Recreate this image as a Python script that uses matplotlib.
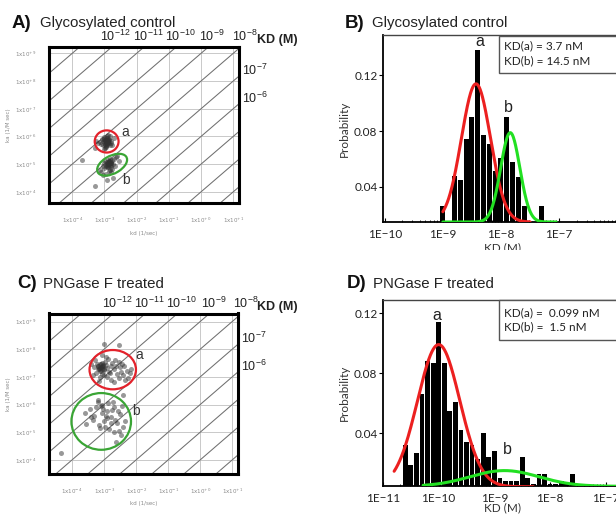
import numpy as np
import matplotlib.pyplot as plt
from matplotlib.patches import Ellipse, Rectangle

# ---------------- data ----------------
# A) glycosylated control, scatter (log10 kd [1/s], log10 ka [1/M s])
A_kd_a = [-2.95, -2.90, -3.00, -2.85, -2.98, -2.92, -3.05, -2.88, -2.95, -2.80, -3.10, -2.93,
          -2.97, -2.87, -3.02, -2.91, -2.99, -2.84, -3.07, -2.95, -2.89, -3.00, -2.78, -3.15,
          -2.94, -2.86, -3.04, -2.96, -2.90, -2.82, -3.20, -2.75, -2.70, -3.25, -3.30, -2.88, -2.93,
          -2.96, -2.93, -2.91, -2.97, -2.94, -2.99, -2.92, -2.95, -2.90, -3.01, -2.89, -2.96]
A_ka_a = [5.85, 5.80, 5.90, 5.75, 5.70, 5.95, 5.82, 5.88, 5.65, 5.78, 5.72, 6.00,
          5.60, 5.92, 5.98, 5.73, 5.84, 5.68, 5.90, 5.76, 6.05, 5.55, 5.85, 5.80,
          5.62, 5.87, 5.70, 5.93, 5.79, 6.02, 5.75, 5.70, 5.95, 5.85, 5.60, 5.83, 5.77,
          5.81, 5.86, 5.79, 5.74, 5.89, 5.83, 5.71, 5.77, 5.84, 5.87, 5.81, 5.92]
A_kd_b = [-2.90, -2.85, -2.95, -2.80, -2.75, -3.00, -2.88, -2.70, -2.92, -2.83, -3.05, -2.78,
          -2.65, -2.98, -2.87, -2.72, -3.10, -2.82, -2.93, -2.60, -2.77, -3.02, -2.89, -2.68,
          -2.96, -2.84, -3.15, -2.55, -2.91, -2.79, -3.71, -3.30, -2.93, -2.73, -3.05,
          -2.86, -2.84, -2.90, -2.80, -2.88, -2.83, -2.92, -2.78, -2.87, -2.81]
A_ka_b = [5.00, 5.10, 4.95, 5.05, 5.15, 4.85, 4.90, 5.20, 5.08, 4.80, 4.92, 4.98,
          5.25, 5.12, 4.75, 5.02, 4.70, 5.18, 4.88, 5.30, 4.82, 5.05, 5.15, 4.95,
          4.65, 5.03, 4.78, 5.10, 4.98, 4.72, 5.15, 4.20, 4.43, 4.50, 4.60,
          5.02, 4.96, 5.06, 5.08, 4.93, 5.12, 5.00, 5.03, 5.07, 4.90]

# C) PNGase F treated, scatter
C_kd_a = [-3.20, -3.15, -3.10, -3.05, -3.00, -2.95, -3.12, -3.08, -3.18, -3.02, -2.90, -3.25,
          -3.22, -3.05, -2.98, -3.14, -3.09, -2.85, -2.80, -2.70, -2.60, -2.50, -2.40, -2.30,
          -2.20, -2.75, -2.65, -2.55, -2.45, -2.35, -3.30, -3.35, -3.28, -2.92, -2.88, -3.00,
          -3.16, -2.78, -2.62, -2.48, -2.25, -2.15, -3.40, -2.95, -3.06, -2.68, -2.52, -2.38,
          -3.12, -2.82, -3.00, -2.55, -2.42, -4.33,
          -3.10, -3.05, -3.15, -3.08, -3.02, -3.12, -3.00, -3.18]
C_ka_a = [7.40, 7.30, 7.45, 7.35, 7.25, 7.42, 7.20, 7.50, 7.28, 7.38, 7.32, 7.15,
          7.48, 7.10, 7.55, 7.33, 7.22, 7.18, 7.40, 7.28, 7.12, 7.35, 7.05, 7.22,
          7.15, 7.50, 7.60, 6.95, 7.45, 6.90, 7.35, 7.05, 7.60, 6.98, 7.65, 7.05,
          6.85, 6.90, 7.40, 7.18, 6.95, 7.30, 7.45, 7.70, 7.78, 6.80, 7.55, 7.38,
          7.00, 7.15, 8.20, 8.15, 6.35, 4.25,
          7.35, 7.40, 7.32, 7.28, 7.42, 7.45, 7.30, 7.38]
C_kd_b = [-3.60, -3.45, -3.30, -3.20, -3.10, -3.00, -2.90, -2.80, -2.70, -2.60, -2.50, -2.40,
          -3.55, -3.35, -3.25, -3.15, -3.05, -2.95, -2.85, -2.75, -2.65, -2.55, -2.45, -3.40,
          -3.18, -3.08, -2.98, -2.88, -2.78, -2.68, -2.58, -2.35, -3.02, -2.92, -3.12, -2.72,
          -2.48, -2.62]
C_ka_b = [5.70, 5.85, 5.60, 6.10, 5.95, 5.40, 5.75, 5.55, 5.90, 5.35, 5.65, 5.20,
          5.30, 5.45, 5.90, 5.25, 6.00, 5.60, 5.10, 5.80, 5.45, 5.05, 5.95, 5.55,
          6.15, 5.70, 5.20, 6.05, 5.35, 5.00, 5.75, 5.40, 5.85, 5.50, 5.15, 6.08,
          4.90, 4.65]

kd_decades = [-4, -3, -2, -1, 0, 1]
ka_decades = [4, 5, 6, 7, 8, 9]
KD_top = [-12, -11, -10, -9, -8]
KD_side = [-7, -6]

# B) histogram, log10 KD bin centres and probability
B_bins = [-9.0, -8.8, -8.7, -8.6, -8.5, -8.4, -8.3, -8.2, -8.1, -8.0, -7.9, -7.8, -7.7, -7.6, -7.3]
B_prob = [0.026, 0.048, 0.045, 0.074, 0.090, 0.138, 0.077, 0.071, 0.051, 0.061, 0.090, 0.058,
          0.047, 0.026, 0.026]
# D) histogram
D_bins = [-10.6, -10.5, -10.4, -10.3, -10.2, -10.1, -10.0, -9.9, -9.8, -9.7, -9.6, -9.5, -9.4,
          -9.3, -9.2, -9.1, -9.0, -8.9, -8.8, -8.7, -8.6, -8.5, -8.4, -8.3, -8.2, -8.1, -8.0,
          -7.9, -7.8, -7.7, -7.6]
D_prob = [0.032, 0.019, 0.027, 0.066, 0.088, 0.087, 0.114, 0.087, 0.055, 0.061, 0.042, 0.034,
          0.032, 0.023, 0.040, 0.024, 0.028, 0.010, 0.008, 0.008, 0.008, 0.024, 0.010, 0.006,
          0.013, 0.013, 0.006, 0.006, 0.008, 0.006, 0.013]

# gaussian fits in log10 KD: centre, sigma, amplitude, baseline, from, to
B_fit_a = [-8.43, 0.25, 0.099, 0.0148, -9.0, -7.5]
B_fit_b = [-7.84, 0.165, 0.064, 0.0148, -9.0, -7.05]
D_fit_a = [-10.0, 0.38, 0.095, 0.0042, -10.8, -8.3]
D_fit_b = [-8.82, 0.62, 0.0105, 0.0045, -10.28, -6.5]

W, H = 616, 514
fig = plt.figure(figsize=(6.16, 5.14), dpi=100)
plt.rcParams['mathtext.fontset'] = 'custom'
plt.rcParams['mathtext.rm'] = 'Liberation Sans'
SANS = 'Liberation Sans'
CAL = 'Lato'


def px_axes(l, t, r, b):
    return fig.add_axes([l / W, 1 - b / H, (r - l) / W, (b - t) / H])


def ftext(x, y, s, **kw):
    return fig.text(x / W, 1 - y / H, s, **kw)


def sup(base, n):
    return r'$\mathregular{%s^{%s}}$' % (base, ('+%d' % n) if n >= 0 else ('%d' % n))


def scatter_panel(ax, ylim, kd_a, ka_a, kd_b, ka_b, red, green, pos_a, pos_b):
    x0, x1 = -4.72, 1.18
    ax.set_xlim(x0, x1)
    ax.set_ylim(*ylim)
    for v in kd_decades:
        ax.axvline(v, color='#c9c9c9', lw=0.7, zorder=0)
    for v in ka_decades:
        ax.axhline(v, color='#c9c9c9', lw=0.7, zorder=0)
    xs = np.array([x0 - 1, x1 + 1])
    for n in range(-14, -1):
        ax.plot(xs, xs - n, color='#6f6f6f', lw=0.75, zorder=1)
    ax.scatter(kd_a, ka_a, s=13, color='#333333', alpha=0.5, linewidths=0, zorder=2)
    ax.scatter(kd_b, ka_b, s=13, color='#333333', alpha=0.5, linewidths=0, zorder=2)
    ax.add_patch(Ellipse(red[:2], red[2], red[3], angle=red[4], fill=False,
                         ec='#e3222b', lw=1.6, zorder=3))
    ax.add_patch(Ellipse(green[:2], green[2], green[3], angle=green[4], fill=False,
                         ec='#3aa535', lw=1.6, zorder=3))
    ax.text(pos_a[0], pos_a[1], 'a', fontsize=10, family=SANS, color='#333', ha='center', va='center')
    ax.text(pos_b[0], pos_b[1], 'b', fontsize=10, family=SANS, color='#333', ha='center', va='center')
    ax.set_xticks(kd_decades)
    ax.set_xticklabels([sup('1x10', n) for n in kd_decades], fontsize=4, color='#8a8a8a')
    ax.set_yticks(ka_decades)
    ax.set_yticklabels([sup('1x10', n) for n in ka_decades], fontsize=4, color='#8a8a8a')
    ax.tick_params(length=0, pad=9)
    ax.set_xlabel('kd (1/sec)', fontsize=4, color='#8a8a8a', labelpad=4)
    ax.set_ylabel('ka (1/M sec)', fontsize=4, color='#8a8a8a', labelpad=3)
    for s in ax.spines.values():
        s.set_linewidth(2.2)
    for n in KD_top:
        ax.text(n + ylim[1] + 0.12, ylim[1] + 0.1, sup('10', n), fontsize=9,
                family=SANS, color='#222', ha='center', va='bottom', clip_on=False)
    for n in KD_side:
        ax.text(x1 + 0.1, x1 - n + 0.2, sup('10', n), fontsize=9, family=SANS, color='#222',
                ha='left', va='center', clip_on=False)


def fit_line(ax, p, color):
    xs = np.linspace(p[4], p[5], 300)
    ys = p[3] + p[2] * np.exp(-(xs - p[0]) ** 2 / (2 * p[1] ** 2))
    ax.plot(10 ** xs, ys, color=color, lw=2.2, zorder=3, solid_capstyle='round')


def hist_panel(ax, bins, prob, xlim, ylim, fits, ticks, box, box_lines, labels, xpad=2):
    c = np.array(bins)
    lo, hi = 10 ** (c - 0.043), 10 ** (c + 0.043)
    ax.bar(lo, prob, width=hi - lo, align='edge', color='black', zorder=2)
    for p, col in fits:
        fit_line(ax, p, col)
    ax.set_xscale('log')
    ax.set_xlim(10 ** xlim[0], 10 ** xlim[1])
    ax.set_ylim(*ylim)
    ax.set_xticks([10.0 ** t for t in ticks])
    ax.set_xticklabels(['1E\u2212%d' % -t for t in ticks], fontsize=8.5, family=CAL, color='#222')
    ax.set_yticks([0.04, 0.08, 0.12])
    ax.set_yticklabels(['0.04', '0.08', '0.12'], fontsize=8.5, family=CAL, color='#222')
    ax.tick_params(axis='x', which='major', direction='in', length=3, width=0.8, pad=5)
    ax.tick_params(axis='x', which='minor', direction='in', length=1.5, width=0.6)
    ax.tick_params(axis='y', direction='out', length=3, width=0.8, pad=1)
    ax.set_ylabel('Probability', fontsize=8.5, family=CAL, color='#333', labelpad=3)
    ax.set_xlabel('KD (M)', fontsize=8.5, family=CAL, color='#333', labelpad=xpad)
    for s in ['left', 'bottom']:
        ax.spines[s].set_linewidth(1.3)
    ax.spines['top'].set_linewidth(1.0)
    ax.spines['top'].set_color('#444')
    ax.add_patch(Rectangle((box[0] / W, 1 - box[3] / H), (box[2] - box[0]) / W, (box[3] - box[1]) / H,
                           transform=fig.transFigure, fill=True, fc='white', ec='#555', lw=1.0,
                           clip_on=False, zorder=4))
    for (x, y, s) in box_lines:
        ftext(x, y, s, fontsize=8.5, family=CAL, color='#222', va='center', ha='left', zorder=5)
    for (x, y, s) in labels:
        ftext(x, y, s, fontsize=11.5, family=SANS, color='#222', va='center', ha='center')


# ---- A ----
axA = px_axes(49, 47, 239, 203.5)
scatter_panel(axA, (3.58, 9.23), A_kd_a, A_ka_a, A_kd_b, A_ka_b,
              (-2.93, 5.82, 0.74, 0.80, 0), (-2.76, 4.98, 1.05, 0.62, 35),
              (-2.34, 6.15), (-2.32, 4.42))
# ---- C ----
axC = px_axes(49, 313.5, 238, 474)
scatter_panel(axC, (3.49, 9.29), C_kd_a, C_ka_a, C_kd_b, C_ka_b,
              (-2.73, 7.26, 1.45, 1.42, 0), (-3.09, 5.39, 1.86, 2.05, 0),
              (-1.91, 7.78), (-2.02, 5.75))
ftext(257, 40, 'KD (M)', fontsize=9, family=SANS, weight='bold', color='#222', va='center')
ftext(257, 307, 'KD (M)', fontsize=9, family=SANS, weight='bold', color='#222', va='center')

# ---- B ----
axB = px_axes(383, 35, 623, 222)
hist_panel(axB, B_bins, B_prob, (-10.03, -5.9), (0.0148, 0.1488),
           [(B_fit_a, '#ec2020'), (B_fit_b, '#22e022')], [-10, -9, -8, -7],
           (498.5, 36.5, 640, 73.5),
           [(504, 46, 'KD(a) = 3.7 nM'), (504, 60.5, 'KD(b) = 14.5 nM')],
           [(480, 42, 'a'), (508, 108, 'b')])
# ---- D ----
axD = px_axes(383, 300, 623, 486)
hist_panel(axD, D_bins, D_prob, (-10.95, -6.69), (0.0047, 0.129),
           [(D_fit_a, '#ec2020'), (D_fit_b, '#22e022')], [-11, -10, -9, -8, -7],
           (499, 300, 640, 340),
           [(504, 313, 'KD(a) =  0.099 nM'), (504, 327, 'KD(b) =  1.5 nM')],
           [(437, 315, 'a'), (507, 450, 'b')], xpad=-1)

# titles
for (x, y, s, x2, t) in [(12, 27.5, 'A)', 40, 'Glycosylated control'),
                         (345, 27.5, 'B)', 372, 'Glycosylated control'),
                         (17, 287.5, 'C)', 43, 'PNGase F treated'),
                         (347, 287.5, 'D)', 373, 'PNGase F treated')]:
    ftext(x, y, s, fontsize=13.5, family=SANS, weight='bold', color='#111', va='baseline')
    ftext(x2, y, t, fontsize=10.8, family=SANS, color='#222', va='baseline')

# white gap between upper and lower halves
fig.patches.append(Rectangle((300 / W, 1 - 266 / H), 316 / W, 16 / H, transform=fig.transFigure,
                             fc='white', ec='none', zorder=10))

fig.savefig('out.png', dpi=100)
